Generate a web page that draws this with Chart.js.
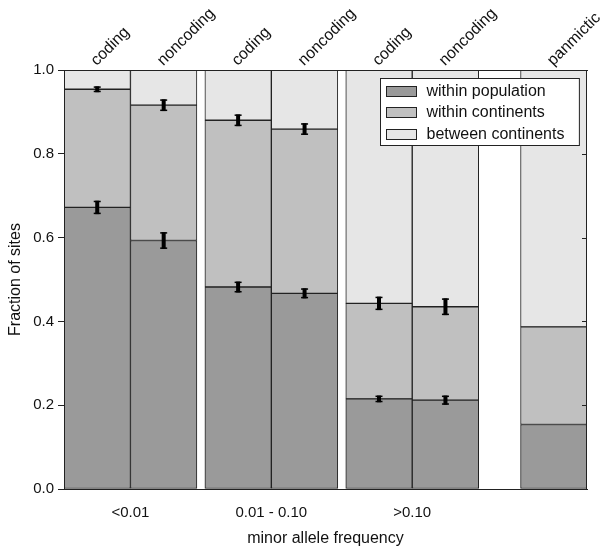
<!DOCTYPE html>
<html>
<head>
<meta charset="utf-8">
<script src="https://cdn.jsdelivr.net/npm/chart.js@4.4.1/dist/chart.umd.min.js"></script>
<style>
  html, body { margin: 0; padding: 0; background: #fff; }
  #wrap { width: 600px; height: 550px; }
</style>
</head>
<body>
<div id="wrap"><canvas id="chart" width="600" height="550"></canvas></div>
<script>
// bar labels (top axis) and grouping (bottom axis)
const barLabels = ['coding', 'noncoding', 'coding', 'noncoding', 'coding', 'noncoding', 'panmictic'];
const barGroups = [0, 0, 1, 1, 2, 2, 3];
const groupLabels = ['<0.01', '0.01 - 0.10', '>0.10'];

// stacked fractions, bottom to top
const withinPopulation = [0.672, 0.593, 0.482, 0.467, 0.215, 0.212, 0.154];
const withinContinents = [0.282, 0.323, 0.398, 0.392, 0.228, 0.223, 0.233];
const betweenContinents = [0.046, 0.084, 0.120, 0.141, 0.557, 0.565, 0.613];

// half-length of error bars at the top of each segment
const errWithinPopulation = [0.016, 0.020, 0.013, 0.012, 0.008, 0.011, null];
const errWithinContinents = [0.007, 0.014, 0.014, 0.014, 0.016, 0.020, null];

const yTicks = [0, 0.2, 0.4, 0.6, 0.8, 1.0];

// x layout in bar-width units: small gap between groups, wider one before the lone bar
const GROUP_GAP = 0.12, SOLO_GAP = 0.63;
const centers = [];
let pos = 0;
barGroups.forEach((g, i) => {
  if (i > 0 && g !== barGroups[i - 1]) pos += (g >= groupLabels.length ? SOLO_GAP : GROUP_GAP);
  centers.push(pos + 0.5);
  pos += 1;
});
const xMax = pos;
const groupCenters = groupLabels.map((_, g) => {
  const c = centers.filter((_, i) => barGroups[i] === g);
  return (c[0] + c[c.length - 1]) / 2;
});

const FONT = '"Liberation Sans", Arial, Helvetica, sans-serif';
const INK = '#111';
const LINE = '#222';
Chart.defaults.font.family = FONT;
Chart.defaults.color = INK;

const toPoints = arr => arr.map((v, i) => ({ x: centers[i], y: v }));

const overlays = {
  id: 'overlays',
  afterDatasetsDraw(chart) {
    const ctx = chart.ctx;
    const y = chart.scales.y;
    const area = chart.chartArea;
    const series = [withinPopulation, withinContinents];
    const errs = [errWithinPopulation, errWithinContinents];

    ctx.save();
    // frame + inward ticks on the right edge
    ctx.strokeStyle = LINE;
    ctx.lineWidth = 1;
    ctx.strokeRect(area.left + 0.5, area.top + 0.5, area.right - area.left - 1, area.bottom - area.top);
    ctx.beginPath();
    yTicks.forEach(v => {
      const py = Math.round(y.getPixelForValue(v)) + 0.5;
      ctx.moveTo(area.right - 5, py);
      ctx.lineTo(area.right, py);
    });
    ctx.stroke();

    // error bars
    ctx.fillStyle = '#000';
    errs.forEach((errArr, d) => {
      const meta = chart.getDatasetMeta(d);
      meta.data.forEach((bar, i) => {
        const e = errArr[i];
        if (e == null) return;
        let cum = 0;
        for (let k = 0; k <= d; k++) cum += series[k][i];
        const yTop = y.getPixelForValue(cum + e);
        const yBot = y.getPixelForValue(cum - e);
        const x = bar.x;
        ctx.fillRect(x - 2, yTop, 4, yBot - yTop);
        ctx.fillRect(x - 3.5, yTop, 7, 1.5);
        ctx.fillRect(x - 3.5, yBot - 1.5, 7, 1.5);
      });
    });
    ctx.restore();
  },
  afterDraw(chart) {
    const ctx = chart.ctx;
    const area = chart.chartArea;
    const sets = chart.data.datasets;
    ctx.save();
    ctx.font = '16px ' + FONT;
    const textW = Math.max(...sets.map(ds => ctx.measureText(ds.label).width));
    const boxW = 6 + 30 + 10 + textW + 15;
    const boxH = 67;
    const bx = Math.round(area.right - 8 - boxW) + 0.5;
    const by = Math.round(area.top + 8) + 0.5;
    ctx.fillStyle = '#fff';
    ctx.fillRect(bx, by, boxW, boxH);
    ctx.strokeStyle = LINE;
    ctx.lineWidth = 1;
    ctx.strokeRect(bx, by, boxW, boxH);
    sets.forEach((ds, k) => {
      const sy = Math.round(by + 7 + k * 21.5) + 0.5;
      ctx.fillStyle = ds.backgroundColor;
      ctx.fillRect(bx + 6, sy, 30, 10);
      ctx.strokeRect(bx + 6, sy, 30, 10);
      ctx.fillStyle = INK;
      ctx.textBaseline = 'middle';
      ctx.textAlign = 'left';
      ctx.fillText(ds.label, bx + 46, sy + 5);
    });
    ctx.restore();
  }
};

const barStyle = { borderColor: LINE, borderWidth: 1, borderSkipped: false, categoryPercentage: 1, barPercentage: 1 };

new Chart(document.getElementById('chart'), {
  type: 'bar',
  data: {
    datasets: [
      Object.assign({ label: 'within population', data: toPoints(withinPopulation), backgroundColor: '#9a9a9a' }, barStyle),
      Object.assign({ label: 'within continents', data: toPoints(withinContinents), backgroundColor: '#c0c0c0' }, barStyle),
      Object.assign({ label: 'between continents', data: toPoints(betweenContinents), backgroundColor: '#e6e6e6' }, barStyle)
    ]
  },
  options: {
    responsive: false,
    animation: false,
    layout: { padding: { left: 0, right: 13, top: 0, bottom: 0 } },
    plugins: { legend: { display: false }, tooltip: { enabled: false } },
    scales: {
      x: {
        type: 'linear', position: 'bottom', min: 0, max: xMax, offset: false, stacked: true,
        grid: { display: false },
        border: { display: true, color: LINE },
        afterBuildTicks: s => { s.ticks = groupCenters.map(v => ({ value: v })); },
        ticks: { autoSkip: false, maxRotation: 0, padding: 7, font: { size: 15 }, callback: (v, i) => groupLabels[i] },
        title: { display: true, text: 'minor allele frequency', font: { size: 16 }, padding: { top: 0, bottom: 2 } },
        afterFit: s => { s.height = 61; }
      },
      xTop: {
        type: 'linear', position: 'top', min: 0, max: xMax, offset: false,
        grid: { display: false },
        border: { display: true, color: LINE },
        afterBuildTicks: s => { s.ticks = centers.map(v => ({ value: v })); },
        ticks: { autoSkip: false, minRotation: 45, maxRotation: 45, padding: -8, labelOffset: 10, font: { size: 16 }, callback: (v, i) => barLabels[i] },
        afterFit: s => { s.height = 70; }
      },
      y: {
        type: 'linear', min: 0, max: 1, stacked: true,
        afterBuildTicks: s => { s.ticks = yTicks.map(v => ({ value: v })); },
        ticks: { padding: 4, font: { size: 15 }, callback: v => v.toFixed(1) },
        grid: { drawOnChartArea: false, tickLength: 6, color: LINE },
        border: { display: true, color: LINE },
        title: { display: true, text: 'Fraction of sites', font: { size: 16 }, padding: { top: 6 } },
        afterFit: s => { s.width = 64; }
      }
    }
  },
  plugins: [overlays]
});
</script>
</body>
</html>
